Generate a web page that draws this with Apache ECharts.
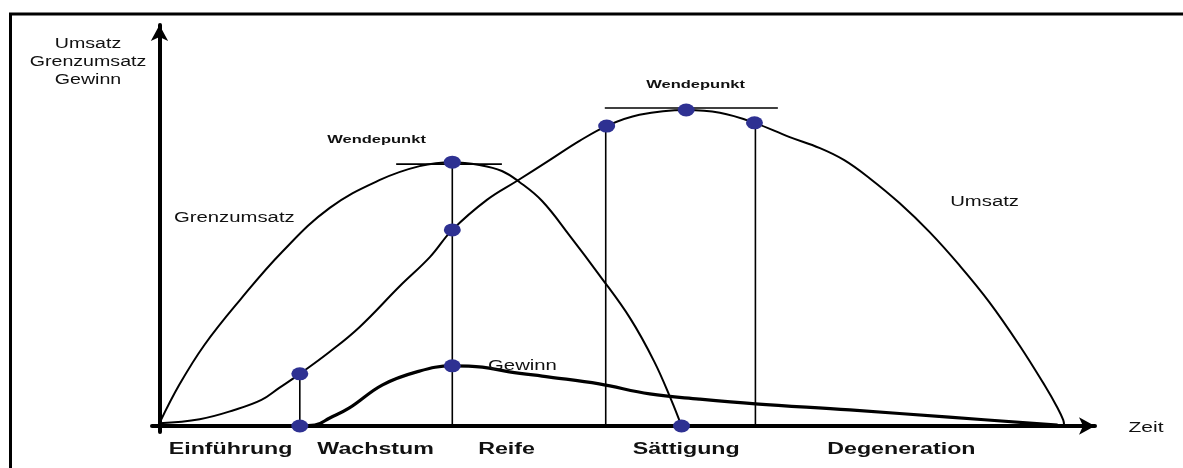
<!DOCTYPE html>
<html><head><meta charset="utf-8">
<script src="https://cdn.jsdelivr.net/npm/echarts@6/dist/echarts.min.js"></script>
<style>html,body{margin:0;padding:0;background:#fff}#c{width:1183px;height:468px}</style>
</head><body><div id="c"></div>
<script>
// Data in abstract units: x = time (0..100), y = value (0..100)
const grenzumsatz = [[0,0.7],[2.1,10.2],[4.8,20.2],[8.6,31.4],[13.1,43.4],[18.2,54.4],[23.5,61.3],[27.8,64.8],[31.3,65.8],[34.2,65.1],[36.6,63.6],[38.5,60.8],[40.9,56.1],[43.8,47.6],[47.0,37.7],[50.3,26.9],[52.9,16.0],[54.7,6.5],[55.8,0]];
const umsatz = [[0,0.7],[4.3,1.7],[8.0,4.0],[10.9,6.5],[12.8,9.5],[15.0,13.0],[18.2,18.5],[21.4,24.7],[25.7,34.9],[28.9,42.1],[31.3,48.9],[35.0,56.4],[38.2,61.1],[41.7,66.3],[44.9,71.1],[47.8,74.8],[51.3,77.6],[56.3,78.8],[59.9,78.1],[63.6,75.6],[67.3,72.1],[70.6,69.3],[73.2,66.3],[75.9,61.8],[79.1,55.6],[82.3,48.4],[85.5,40.1],[88.7,30.9],[91.9,20.2],[94.6,10.2],[96.0,4.5],[96.6,1.5],[96.7,0.2]];
const gewinn = [[15.0,0],[16.6,0.2],[18.2,2.0],[20.3,4.5],[23.8,10.2],[27.5,13.5],[31.3,15.0],[34.5,14.7],[37.4,13.5],[41.7,12.2],[47.0,10.5],[52.4,8.0],[57.7,6.7],[63.7,5.5],[73.8,4.0],[84.4,2.2],[96.0,0.2]];
const markers = [[15.0,13.0],[15.0,0],[31.3,65.8],[31.3,48.9],[31.3,15.0],[47.8,74.8],[56.3,78.8],[63.6,75.6],[55.8,0]];
const verticals = [[15.0,13.0],[31.3,65.8],[47.7,74.8],[63.7,75.6]]; // [x, top]
const tangents = [[25.3,36.6,65.3],[47.6,66.1,79.3]]; // [x1, x2, y]
const phases = ['Einführung','Wachstum','Reife','Sättigung','Degeneration'];
const phaseCenters = [7.6, 23.1, 37.1, 56.3, 79.3];
const curveLabels = [['Grenzumsatz',8.0,51.9],['Umsatz',88.2,55.9],['Gewinn',38.8,15.0]];
const wendeLabels = [['Wendepunkt',23.2,71.3],['Wendepunkt',57.3,85.0]];
const axisTitle = 'Umsatz\nGrenzumsatz\nGewinn';
const xAxisTitle = 'Zeit';

const chart = echarts.init(document.getElementById('c'), null, {renderer:'canvas'});
const thin = {color:'#000', width:1.6};
const series = [];
verticals.forEach(v => series.push({type:'line', data:[[v[0],0],[v[0],v[1]]], showSymbol:false, lineStyle:thin, z:2, silent:true}));
tangents.forEach(t => series.push({type:'line', data:[[t[0],t[2]],[t[1],t[2]]], showSymbol:false, lineStyle:thin, z:2, silent:true}));
series.push({type:'line', name:'Grenzumsatz', data:grenzumsatz, smooth:0.4, showSymbol:false, lineStyle:{color:'#000', width:2}, z:3});
series.push({type:'line', name:'Umsatz', data:umsatz, smooth:0.4, showSymbol:false, lineStyle:{color:'#000', width:2}, z:3});
series.push({type:'line', name:'Gewinn', data:gewinn, smooth:0.4, showSymbol:false, lineStyle:{color:'#000', width:3.2}, z:3});
series.push({type:'scatter', data:markers, symbol:'circle', symbolSize:[17,13], itemStyle:{color:'#2e3192', opacity:1}, z:10});

chart.setOption({
  animation:false,
  grid:{left:152, right:88, top:25, bottom:36},
  xAxis:{type:'value', min:-0.8, max:100, axisLine:{show:true, onZero:true, symbol:['none','arrow'], symbolSize:[13,16], lineStyle:{color:'#000', width:4}}, axisTick:{show:false}, axisLabel:{show:false}, splitLine:{show:false}},
  yAxis:{type:'value', min:-1.5, max:100, axisLine:{show:true, onZero:true, symbol:['none','arrow'], symbolSize:[13,16], lineStyle:{color:'#000', width:4}}, axisTick:{show:false}, axisLabel:{show:false}, splitLine:{show:false}},
  series: series
});

const font = '"Liberation Sans", Arial, sans-serif';
const g = [];
g.push({type:'rect', shape:{x:10.5, y:14, width:1200, height:500}, style:{fill:'none', stroke:'#000', lineWidth:3}, z:100});
function txt(text, x, y, size, weight, sx){
  return {type:'text', x:x, y:y, scaleX:sx, z:100, style:{text:text, fill:'#111', font: weight+' '+size+'px '+font, textAlign:'center', textVerticalAlign:'middle', lineHeight:18}};
}
g.push(txt(axisTitle, 88, 62, 14, 'normal', 1.4));
const zeitPos = chart.convertToPixel({gridIndex:0}, [100, 0]);
g.push(txt(xAxisTitle, 1146, zeitPos[1]+2, 14, 'normal', 1.5));
phases.forEach((p,i) => {
  const pt = chart.convertToPixel({gridIndex:0}, [phaseCenters[i], 0]);
  g.push(txt(p, pt[0], pt[1]+24, 16, 'bold', 1.45));
});
curveLabels.forEach(c => {
  const pt = chart.convertToPixel({gridIndex:0}, [c[1], c[2]]);
  g.push(txt(c[0], pt[0], pt[1], 14, 'normal', 1.45));
});
wendeLabels.forEach(c => {
  const pt = chart.convertToPixel({gridIndex:0}, [c[1], c[2]]);
  g.push(txt(c[0], pt[0], pt[1], 11, 'bold', 1.5));
});
chart.setOption({graphic:g});
</script>
</body></html>
